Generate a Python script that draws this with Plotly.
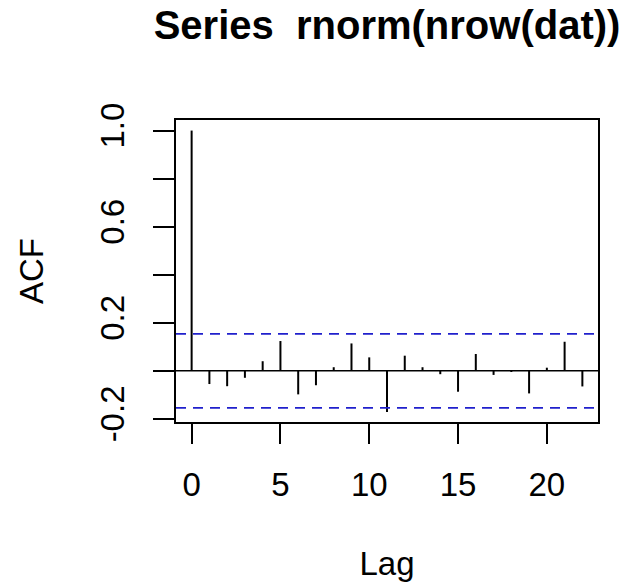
import plotly.graph_objects as go

lags = list(range(23))
acf_values = [1.0, -0.055, -0.064, -0.029, 0.040, 0.124, -0.098, -0.060, 0.015, 0.114,
              0.056, -0.171, 0.063, 0.015, -0.014, -0.087, 0.070, -0.017, -0.005, -0.094,
              0.013, 0.121, -0.065]
conf_limit = 0.154
x_ticks = [0, 5, 10, 15, 20]
y_ticks = [-0.2, 0.0, 0.2, 0.4, 0.6, 0.8, 1.0]
y_tick_text = ["-0.2", "", "0.2", "", "0.6", "", "1.0"]

xs, ys = [], []
for l, v in zip(lags, acf_values):
    xs += [l, l, None]
    ys += [0, v, None]

FONT = "Liberation Sans, Arial, sans-serif"

fig = go.Figure()
fig.add_trace(go.Scatter(x=xs, y=ys, mode="lines",
                         line=dict(color="black", width=2),
                         hoverinfo="skip", showlegend=False))

fig.add_shape(type="line", xref="paper", x0=0, x1=1, yref="y", y0=0, y1=0,
              line=dict(color="black", width=1.5))
for c in (conf_limit, -conf_limit):
    fig.add_shape(type="line", xref="paper", x0=0, x1=1, yref="y", y0=c, y1=c,
                  line=dict(color="#2020cc", width=1.8, dash="10px,7px"))

fig.update_layout(
    width=627, height=584,
    margin=dict(l=176, r=29, t=120, b=162, autoexpand=False),
    paper_bgcolor="white", plot_bgcolor="white",
    font=dict(family=FONT, color="black", size=33),
    title=dict(text="<b>Series  rnorm(nrow(dat))</b>", x=0.5, xref="paper",
               y=1 - 25 / 584, yref="container", yanchor="middle", xanchor="center",
               font=dict(size=40, family=FONT, color="black")),
    xaxis=dict(range=[-0.88, 22.88], tickvals=x_ticks, ticks="outside", ticklen=20,
               tickwidth=1.5, tickcolor="black", showgrid=False, zeroline=False,
               showline=True, linecolor="black", linewidth=1.5, mirror=True,
               ticklabelstandoff=13, tickfont=dict(size=33), automargin=False,
               title=dict(text="Lag", standoff=50, font=dict(size=33))),
    yaxis=dict(range=[-0.213, 1.044], tickvals=y_ticks, ticktext=y_tick_text,
               ticks="outside", ticklen=21, tickwidth=1.5, tickcolor="black",
               showgrid=False, zeroline=False, showline=True, linecolor="black",
               linewidth=1.5, mirror=True, tickangle=-90, ticklabelstandoff=16,
               tickfont=dict(size=33), automargin=False,
               title=dict(text="ACF", standoff=40, font=dict(size=33))),
)

fig.write_html("out.html")
